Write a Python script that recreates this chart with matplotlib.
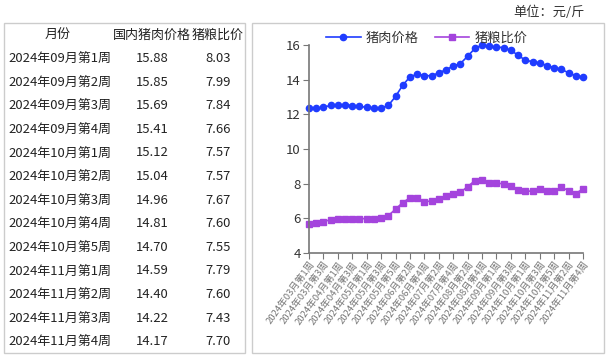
import numpy as np
import matplotlib
matplotlib.use("Agg")
from matplotlib import pyplot as plt
from matplotlib.patches import Rectangle

plt.rcParams['font.family'] = ['Noto Sans CJK SC', 'DejaVu Sans']

# weekly labels, 2024 Mar wk1 .. Nov wk4
weeks_per_month = [('03', 4), ('04', 4), ('05', 5), ('06', 4), ('07', 4),
                   ('08', 5), ('09', 4), ('10', 5), ('11', 4)]
week_labels = ['2024年%s月第%d周' % (m, w) for m, n in weeks_per_month for w in range(1, n + 1)]

pork_price = [12.34, 12.34, 12.42, 12.51, 12.52, 12.55, 12.50, 12.46, 12.40, 12.36,
              12.36, 12.51, 13.03, 13.68, 14.16, 14.32, 14.24, 14.22, 14.40, 14.57,
              14.79, 14.93, 15.35, 15.80, 16.00, 15.92, 15.88, 15.85, 15.69, 15.41,
              15.12, 15.04, 14.96, 14.81, 14.70, 14.59, 14.40, 14.22, 14.17]
pig_grain = [5.68, 5.71, 5.81, 5.92, 5.96, 5.98, 5.98, 5.98, 5.98, 5.98,
             6.02, 6.15, 6.53, 6.91, 7.18, 7.18, 6.97, 6.99, 7.14, 7.30,
             7.41, 7.50, 7.83, 8.17, 8.21, 8.04, 8.03, 7.99, 7.84, 7.66,
             7.57, 7.57, 7.67, 7.60, 7.55, 7.79, 7.60, 7.43, 7.70]

# table: last 13 weeks
table_header = ['月份', '国内猪肉价格', '猪粮比价']
table_weeks = week_labels[-13:]
table_price = pork_price[-13:]
table_ratio = pig_grain[-13:]

W, H = 609, 357
fig = plt.figure(figsize=(W / 100, H / 100), dpi=100)


def fx(px):
    return px / W


def fy(py):
    return 1 - py / H


# panel boxes
for x0, x1 in [(4, 245), (252, 604)]:
    fig.patches.append(Rectangle((fx(x0), fy(353)), fx(x1) - fx(x0), fy(23) - fy(353),
                                 transform=fig.transFigure, fill=False,
                                 edgecolor='#cccccc', linewidth=1))

fig.text(fx(585), fy(12), '单位：元/斤', ha='right', va='center', fontsize=9.5, color='#333333')

# table text
row0 = 35
row_h = 23.6
tc = '#222222'
fs = 9.4
fig.text(fx(58), fy(row0), table_header[0], ha='center', va='center', fontsize=fs, color=tc)
fig.text(fx(152), fy(row0), table_header[1], ha='center', va='center', fontsize=fs, color=tc)
fig.text(fx(218), fy(row0), table_header[2], ha='center', va='center', fontsize=fs, color=tc)
for i in range(len(table_weeks)):
    y = fy(row0 + (i + 1) * row_h)
    fig.text(fx(8), y, table_weeks[i], ha='left', va='center', fontsize=fs, color=tc)
    fig.text(fx(152), y, '%.2f' % table_price[i], ha='center', va='center', fontsize=fs, color=tc)
    fig.text(fx(218), y, '%.2f' % table_ratio[i], ha='center', va='center', fontsize=fs, color=tc)

# chart
ax = fig.add_axes([fx(309), fy(253), fx(583) - fx(309), fy(45) - fy(253)])
x = np.arange(len(week_labels))
ax.plot(x, pork_price, color='#1f3cff', marker='o', markersize=4.5, linewidth=1.2,
        label='猪肉价格', clip_on=False)
ax.plot(x, pig_grain, color='#a444dd', marker='s', markersize=3.8, linewidth=1.2,
        label='猪粮比价', clip_on=False)
ax.set_xlim(0, len(week_labels) - 1)
ax.set_ylim(4, 16)
ax.set_yticks([4, 6, 8, 10, 12, 14, 16])
ax.set_xticks(x[::2])
ax.set_xticklabels(week_labels[::2], rotation=54, ha='right', rotation_mode='anchor',
                   fontsize=6.8, color='#777777')
for s in ['top', 'right']:
    ax.spines[s].set_visible(False)
for s in ['left', 'bottom']:
    ax.spines[s].set_color('#777777')
    ax.spines[s].set_linewidth(1.2)
ax.tick_params(axis='y', labelsize=9.5, labelcolor='#333333', color='#777777', length=4, pad=2)
ax.tick_params(axis='x', color='#777777', length=4, pad=1)
ax.legend(loc='lower center', bbox_to_anchor=(0.43, 0.97), ncol=2, frameon=False,
          fontsize=9.5, handlelength=2.6, columnspacing=1.2, handletextpad=0.4,
          borderpad=0, labelcolor='#333333')

plt.savefig('out.png', dpi=100)
